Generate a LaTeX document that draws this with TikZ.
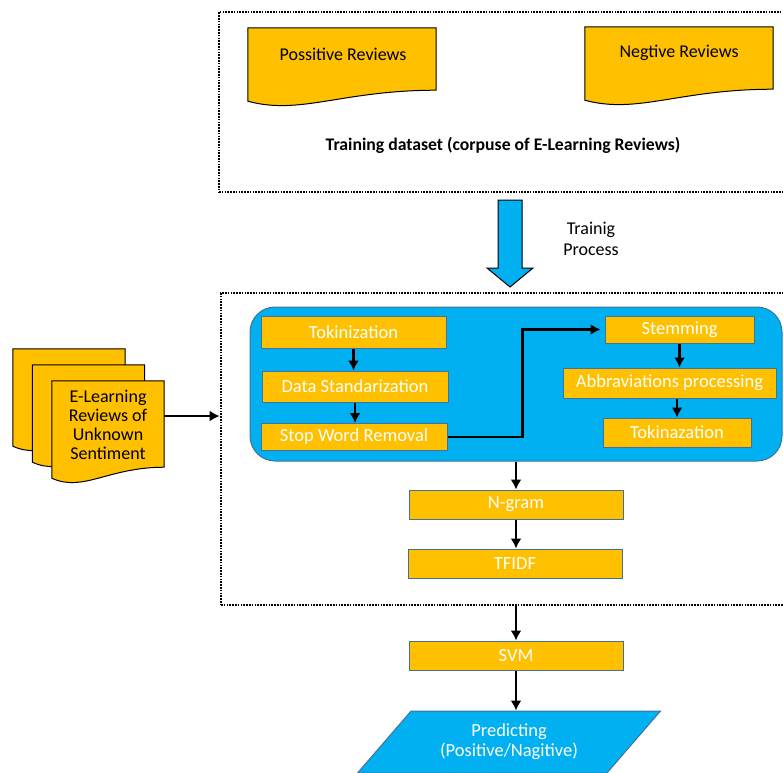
\documentclass[tikz,border=0pt]{standalone}
\usepackage{fontspec}
\setmainfont{Carlito}
\usetikzlibrary{arrows.meta, calc, shapes.geometric}
\definecolor{gold}{HTML}{FFC000}
\definecolor{sky}{HTML}{00B0F0}
\definecolor{boxline}{HTML}{41719C}
\tikzset{%
    proc/.style={draw=boxline, fill=gold, text=white, inner sep=0pt, line width=1pt,
        font=\fontsize{18.5}{22}\selectfont},
    doc/.style={inner sep=0pt, font=\fontsize{18}{21.5}\selectfont, align=center},
    dotbox/.style={draw=black, line width=2.8pt, dash pattern=on 1.6pt off 1.2pt, inner sep=0pt},
    arr/.style={line width=2.2pt, -{Latex[length=10pt, width=11pt]}}
}
% document shape: flat top, wavy bottom below the node
\newcommand{\docwave}[2]{%
    \filldraw[fill=gold, draw=black, line width=1pt]
        (#1.north west) -- (#1.north east) -- (#1.south east)
        .. controls ($(#1.south east)!0.5!(#1.south west)$) and ($(#1.south east)!0.72!(#1.south west)+(0,2.3*#2)$)
        .. ($(#1.south west)+(0,#2)$) -- cycle;
}

\begin{document}
\begin{tikzpicture}[x=1pt, y=-1pt]
        \useasboundingbox (0,0) rectangle (783,772);

        % training data
        \node[dotbox, minimum width=600pt, minimum height=180pt] (train) at (519,102){};
        \node[doc, minimum width=188pt, minimum height=62pt] (pos) at (342,59){};
        \node[doc, minimum width=188pt, minimum height=62pt] (neg) at (679,58){};
        \docwave{pos}{11}
        \docwave{neg}{11}
        \node[doc] at (343,54) {Possitive Reviews};
        \node[doc] at (679,53) {Negtive Reviews};
        \node[font=\fontsize{17.7}{21}\selectfont\bfseries] (title) at (503,145) {Training dataset (corpuse of E-Learning Reviews)};

        % training arrow
        \coordinate (arrtop) at (510,200);
        \filldraw[fill=sky, draw=black, line width=1pt] (arrtop) ++(-12,0) -- ++(24,0) -- ++(0,68)
            -- ++(11,0) -- ++(-23,19) -- ++(-23,-19) -- ++(11,0) -- cycle;
        \node[doc] (trainlbl) at (591,239) {Trainig\\Process};

        % processing
        \node[dotbox, minimum width=600pt, minimum height=312pt] (proc) at (521,449){};
        \node[draw=boxline, fill=sky, line width=1pt, rounded corners=25pt,
              minimum width=532pt, minimum height=154pt] (panel) at (516,384){};

        \node[proc, minimum width=185pt, minimum height=32pt] (tok) at (353.5,332) {Tokinization};
        \node[proc, minimum width=186pt, minimum height=31pt] (std) at (355,386.5) {Data Standarization};
        \node[proc, minimum width=186pt, minimum height=27pt] (stop) at (354,437) {Stop Word Removal};
        \node[proc, minimum width=149pt, minimum height=27pt] (stem) at (679.5,329.5) {Stemming};
        \node[proc, minimum width=213pt, minimum height=30pt] (abbr) at (669.5,383) {Abbraviations processing};
        \node[proc, minimum width=148pt, minimum height=29pt] (tokz) at (677,432.5) {Tokinazation};

        \node[proc, minimum width=214pt, minimum height=29pt] (ngram) at (516,504.5) {N-gram};
        \node[proc, minimum width=214pt, minimum height=29pt] (tfidf) at (515,563.5) {TFIDF};
        \node[proc, minimum width=214pt, minimum height=29pt] (svm) at (516,655.5) {SVM};
        \node[trapezium, trapezium left angle=47, trapezium right angle=133, trapezium stretches=true,
              draw=boxline, fill=sky, line width=1pt, text=white, align=center,
              font=\fontsize{18.5}{19}\selectfont, minimum width=304pt, minimum height=62pt] (pred) at (509,742)
              {\raisebox{3pt}{\shortstack{Predicting\\(Positive/Nagitive)}}};

        % unknown reviews
        \node[doc, minimum width=112pt, minimum height=86pt] (back) at (69,392){};
        \node[doc, minimum width=112pt, minimum height=86pt] (mid) at (88.5,408){};
        \node[doc, minimum width=112pt, minimum height=86pt] (front) at (108,424){};
        \docwave{back}{11}
        \docwave{mid}{11}
        \docwave{front}{11}
        \node[doc, font=\fontsize{18}{19}\selectfont] at (108,424.5) {E-Learning\\Reviews of\\Unknown\\Sentiment};

        % connectors
        \draw[arr] (tok) -- (tok |- std.north);
        \draw[arr] (std) -- (std |- stop.north);
        \draw[arr] (stop.east) -- ++(75,0) |- ([xshift=-4pt]stem.west);
        \draw[arr] (stem.south) -- (stem.south |- abbr.north);
        \draw[arr] (abbr.south -| tokz) -- (tokz);
        \draw[arr] (panel.south) -- (ngram);
        \draw[arr] (ngram) -- (ngram |- tfidf.north);
        \draw[arr] (proc.south -| svm) -- (svm);
        \draw[arr] (svm.south) -- (svm.south |- pred.north);
        \draw[arr] ([yshift=8pt]front.east) -- ([yshift=8pt]front.east -| proc.west);
    \end{tikzpicture}
\end{document}
